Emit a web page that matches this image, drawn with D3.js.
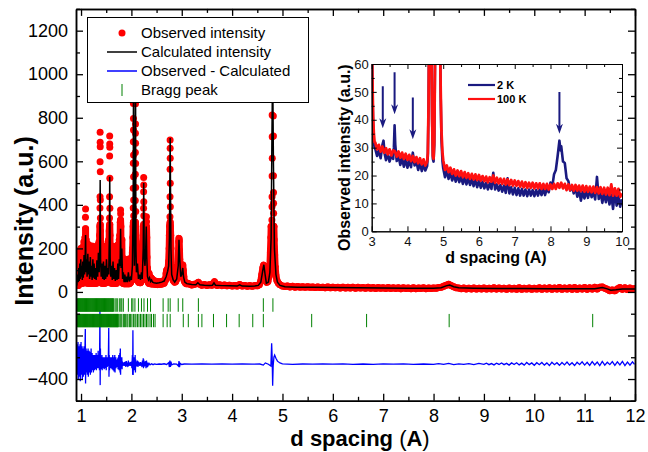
<!DOCTYPE html>
<html>
<head>
<meta charset="utf-8">
<script src="https://cdn.jsdelivr.net/npm/d3@7"></script>
<style>
body { margin: 0; background: #fff; }
text { font-family: "Liberation Sans", Arial, sans-serif; }
</style>
</head>
<body>
<div id="chart"></div>
<script>
// ---- main pattern: observed profile [d, intensity] ----
const obsProfile = [
[0.915,40],[0.92,120],[0.925,30],[0.93,140],[0.935,35],[0.94,110],[0.945,30],[0.95,150],[0.955,40],[0.96,170],[0.965,35],[0.97,130],[0.975,40],[0.98,190],[0.985,45],[0.99,160],[0.995,40],[1.0,200],[1.005,50],[1.01,175],[1.015,40],[1.02,150],[1.025,45],[1.03,185],[1.035,40],[1.04,160],[1.045,50],[1.05,210],[1.055,45],[1.06,230],[1.065,60],[1.07,200],[1.075,55],[1.08,250],[1.085,120],[1.09,290],[1.095,100],[1.10,240],[1.105,55],[1.11,210],[1.115,45],[1.12,195],[1.125,40],[1.13,220],[1.135,50],[1.14,200],[1.145,45],[1.15,190],[1.155,40],[1.16,215],[1.165,45],[1.17,180],[1.175,40],[1.18,205],[1.185,50],[1.19,190],[1.195,40],[1.20,175],[1.205,45],[1.21,200],[1.215,40],[1.22,185],[1.225,45],[1.23,210],[1.235,50],[1.24,180],[1.245,40],[1.25,195],[1.255,45],[1.26,170],[1.265,40],[1.27,190],[1.275,45],[1.28,175],[1.285,40],[1.29,165],[1.295,45],[1.30,180],[1.305,40],[1.31,195],[1.315,50],[1.32,170],[1.325,45],[1.33,200],[1.335,55],[1.34,215],[1.345,60],[1.35,220],[1.355,70],[1.36,230],[1.365,80],[1.37,260],[1.375,300],[1.38,310],[1.385,280],[1.39,150],[1.395,60],[1.40,200],[1.405,45],[1.41,190],[1.415,40],[1.42,205],[1.425,45],[1.43,180],[1.435,40],[1.44,195],[1.445,45],[1.45,210],[1.455,40],[1.46,175],[1.465,45],[1.47,190],[1.475,40],[1.48,200],[1.485,50],[1.49,185],[1.495,45],[1.50,210],[1.505,55],[1.51,195],[1.515,50],[1.52,180],[1.525,45],[1.53,200],[1.535,60],[1.54,230],[1.545,80],[1.55,240],[1.555,120],[1.56,280],[1.565,300],[1.57,310],[1.575,260],[1.58,120],[1.585,55],[1.59,200],[1.595,45],[1.60,185],[1.605,40],[1.61,200],[1.615,45],[1.62,175],[1.625,40],[1.63,190],[1.635,45],[1.64,210],[1.645,40],[1.65,180],[1.655,45],[1.66,195],[1.665,40],[1.67,170],[1.675,45],[1.68,185],[1.685,40],[1.69,175],[1.695,45],[1.70,190],[1.705,40],[1.71,165],[1.715,45],[1.72,200],[1.725,50],[1.73,215],[1.735,55],[1.74,190],[1.745,60],[1.75,220],[1.755,70],[1.76,240],[1.765,90],[1.77,260],[1.775,200],[1.78,320],[1.785,330],[1.79,300],[1.795,150],[1.80,230],[1.805,200],[1.81,240],[1.815,100],[1.82,160],[1.825,45],[1.83,140],[1.835,40],[1.84,150],[1.845,40],[1.85,125],[1.855,38],[1.86,140],[1.865,40],[1.87,130],[1.875,38],[1.88,145],[1.885,40],[1.89,120],[1.895,38],[1.90,135],[1.905,40],[1.91,115],[1.915,38],[1.92,130],[1.925,40],[1.93,140],[1.935,38],[1.94,150],[1.945,40],[1.95,125],[1.955,38],[1.96,110],[1.965,40],[1.97,120],[1.975,42],[1.98,115],[1.985,45],[1.99,130],[1.995,50],[2.00,140],[2.005,55],[2.01,160],[2.015,80],[2.02,180],[2.025,200],[2.03,250],[2.035,300],[2.04,320],[2.045,300],[2.05,220],[2.055,150],[2.06,180],[2.065,230],[2.07,280],[2.075,300],[2.08,320],[2.085,300],[2.09,220],[2.095,130],[2.10,160],[2.105,60],[2.11,150],[2.115,55],[2.12,175],[2.125,60],[2.13,160],[2.135,50],[2.14,140],[2.145,45],[2.15,130],[2.155,45],[2.16,145],[2.165,45],[2.17,120],[2.175,42],[2.18,130],[2.185,45],[2.19,140],[2.195,50],[2.20,160],[2.205,55],[2.21,150],[2.215,60],[2.22,180],[2.225,120],[2.23,230],[2.235,260],[2.24,300],[2.245,310],[2.25,280],[2.255,220],[2.26,160],[2.265,140],[2.27,180],[2.275,150],[2.28,220],[2.285,260],[2.29,280],[2.295,290],[2.30,300],[2.305,250],[2.31,160],[2.315,80],[2.32,110],[2.325,50],[2.33,90],[2.335,45],[2.34,80],[2.345,40],[2.35,85],[2.36,40],[2.37,70],[2.38,38],[2.39,65],[2.40,38],[2.41,60],[2.42,36],[2.43,55],[2.45,36],[2.47,50],[2.49,34],[2.51,48],[2.53,34],[2.55,46],[2.57,35],[2.59,48],[2.61,36],[2.63,50],[2.65,40],[2.67,60],[2.68,55],[2.69,85],[2.70,100],[2.71,95],[2.72,105],[2.73,110],[2.74,140],[2.75,200],[2.755,260],[2.76,300],[2.765,310],[2.77,320],[2.775,300],[2.78,260],[2.785,200],[2.79,120],[2.80,80],[2.81,70],[2.82,60],[2.83,55],[2.84,50],[2.86,45],[2.88,48],[2.90,60],[2.91,75],[2.92,95],[2.93,130],[2.935,180],[2.94,230],[2.945,246],[2.95,235],[2.955,190],[2.96,150],[2.97,100],[2.98,70],[2.99,75],[3.00,90],[3.01,115],[3.02,124],[3.03,100],[3.04,70],[3.05,50],[3.07,42],[3.09,38],[3.12,40],
[3.15,36],[3.20,32],[3.25,35],[3.30,39],[3.33,44],[3.36,35],[3.40,31],[3.45,34],[3.50,30],[3.55,33],[3.60,31],[3.63,40],[3.65,47],[3.67,37],[3.70,30],[3.75,33],[3.80,29],[3.85,32],[3.90,28],[3.95,31],[4.00,27],[4.05,30],[4.10,27],[4.15,34],[4.20,27],[4.25,30],[4.30,26],[4.35,29],[4.40,26],[4.45,29],[4.50,28],[4.54,33],[4.57,50],[4.59,80],[4.61,110],[4.625,123],[4.64,115],[4.655,85],[4.67,55],[4.69,44],[4.71,48],[4.73,70],[4.75,120],[4.76,180],[4.77,250],[4.775,300],[4.83,300],[4.835,240],[4.845,170],[4.855,115],[4.87,75],[4.89,52],[4.92,40],[4.95,33],[5.00,27],[5.05,25],[5.10,27],[5.15,23],[5.20,26],[5.25,22],[5.30,25],[5.35,22],[5.40,24],[5.45,21],[5.50,24],[5.55,21],[5.60,23],[5.65,20],[5.70,23],[5.75,20],[5.80,22],[5.85,19],[5.90,23],[5.95,19],[6.00,22],[6.05,19],[6.10,21],[6.15,18],[6.20,22],[6.25,18],[6.30,21],[6.35,18],[6.40,22],[6.45,17],[6.50,21],[6.55,18],[6.60,20],[6.65,17],[6.70,21],[6.75,17],[6.80,20],[6.85,16],[6.90,20],[6.95,17],[7.00,19],[7.05,16],[7.10,20],[7.15,16],[7.20,19],[7.25,16],[7.30,19],[7.35,15],[7.40,19],[7.45,16],[7.50,18],[7.55,15],[7.60,19],[7.65,15],[7.70,18],[7.75,16],[7.80,19],[7.85,15],[7.90,18],[7.95,16],[8.00,18],[8.05,17],[8.10,20],[8.15,21],[8.20,26],[8.25,31],[8.30,35],[8.35,29],[8.40,24],[8.45,19],[8.50,18],[8.55,15],[8.60,18],[8.65,14],[8.70,17],[8.75,14],[8.80,18],[8.85,13],[8.90,17],[8.95,14],[9.00,18],[9.05,13],[9.10,17],[9.15,14],[9.20,19],[9.25,13],[9.30,18],[9.35,14],[9.40,17],[9.45,12],[9.50,18],[9.55,13],[9.60,17],[9.65,12],[9.70,19],[9.75,12],[9.80,17],[9.85,13],[9.90,18],[9.95,12],[10.00,17],[10.05,13],[10.10,19],[10.15,12],[10.20,18],[10.25,13],[10.30,19],[10.35,12],[10.40,18],[10.45,13],[10.50,20],[10.55,12],[10.60,18],[10.65,13],[10.70,19],[10.75,12],[10.80,20],[10.85,12],[10.90,18],[10.95,13],[11.00,20],[11.05,12],[11.10,19],[11.15,13],[11.20,21],[11.25,14],[11.30,22],[11.35,23],[11.40,17],[11.45,12],[11.50,6],[11.55,9],[11.60,5],[11.65,14],[11.70,20],[11.75,12],[11.80,19],[11.85,11],[11.90,18],[11.95,12],[11.99,15]
];

// observed points on the flanks of the strong reflections
const obsPeaks = [
[1.088,343],[1.09,381],
[1.379,733],[1.380,687],[1.381,667],[1.378,598],[1.382,552],[1.377,437],[1.383,422],[1.376,385],[1.384,340],
[1.569,716],[1.570,679],[1.571,664],[1.568,624],[1.572,522],[1.567,437],[1.573,384],[1.566,340],
[1.785,376],[1.787,359],
[2.040,866],[2.041,797],[2.042,744],[2.039,690],[2.043,629],[2.038,591],[2.044,529],[2.037,476],[2.045,422],[2.036,385],[2.046,350],
[2.081,864],[2.082,771],[2.080,729],[2.083,683],[2.079,640],[2.084,590],[2.078,540],[2.085,480],[2.077,420],[2.086,370],
[2.244,526],[2.245,491],[2.243,460],[2.246,414],[2.242,384],[2.247,350],
[2.299,345],[2.301,322],
[2.769,698],[2.770,660],[2.771,614],[2.768,563],[2.772,499],[2.767,437],[2.773,391],[2.766,345],
[4.795,813],[4.818,808],[4.796,713],[4.820,716],[4.797,614],[4.821,534],[4.794,532],[4.822,457],[4.793,437],[4.823,407],[4.792,391],[4.824,361],[4.790,330],[4.826,300],[4.788,254],[4.828,208],[4.786,177]
];

// calculated profile
const calcProfile = [
[0.915,30],[0.92,60],[0.935,80],[0.945,45],[0.955,110],[0.965,50],[0.975,130],[0.985,60],[0.995,150],[1.005,70],[1.015,120],[1.025,55],[1.035,140],[1.045,65],[1.06,170],[1.07,80],[1.08,130],[1.09,262],[1.10,90],[1.11,150],[1.12,70],[1.135,175],[1.145,80],[1.16,140],[1.17,60],[1.185,160],[1.195,70],[1.21,120],[1.22,55],[1.235,150],[1.245,65],[1.26,130],[1.27,60],[1.285,110],[1.30,55],[1.315,145],[1.33,70],[1.345,180],[1.36,90],[1.372,200],[1.38,514],[1.388,150],[1.40,70],[1.415,130],[1.43,60],[1.445,140],[1.46,55],[1.475,120],[1.49,60],[1.505,150],[1.52,70],[1.535,110],[1.55,80],[1.562,250],[1.57,529],[1.578,160],[1.59,70],[1.605,120],[1.62,55],[1.635,140],[1.65,60],[1.665,110],[1.68,50],[1.70,100],[1.715,55],[1.73,130],[1.745,60],[1.76,150],[1.775,120],[1.785,290],[1.795,110],[1.81,200],[1.825,60],[1.84,90],[1.855,45],[1.87,80],[1.885,45],[1.90,70],[1.92,45],[1.94,90],[1.96,48],[1.98,65],[2.00,55],[2.02,120],[2.035,400],[2.043,1050],[2.05,300],[2.06,120],[2.07,250],[2.082,1000],[2.09,200],[2.10,90],[2.12,130],[2.14,60],[2.16,80],[2.18,55],[2.20,90],[2.215,60],[2.235,200],[2.245,500],[2.255,160],[2.27,120],[2.285,200],[2.295,300],[2.305,160],[2.32,70],[2.34,55],[2.36,65],[2.38,48],[2.40,55],[2.42,45],[2.45,42],[2.50,40],[2.55,42],[2.60,45],[2.65,50],[2.69,70],[2.72,95],[2.74,120],[2.755,250],[2.77,707],[2.785,200],[2.80,80],[2.83,55],[2.86,45],[2.90,60],[2.93,120],[2.945,240],[2.96,150],[2.98,70],[3.00,80],[3.02,110],[3.035,70],[3.06,45],[3.10,38],[3.20,34],[3.28,33],[3.32,42],[3.36,33],[3.45,31],[3.55,30],[3.61,31],[3.64,42],[3.67,31],[3.80,29],[3.95,28],[4.10,27],[4.15,33],[4.20,27],[4.35,26],[4.45,27],[4.52,30],[4.57,45],[4.61,100],[4.63,125],[4.655,80],[4.68,40],[4.72,45],[4.75,90],[4.775,250],[4.79,700],[4.805,1050],[4.82,600],[4.84,200],[4.87,80],[4.90,45],[4.95,30],[5.05,24],[5.3,22],[5.6,21],[6.0,20],[6.5,19],[7.0,18],[7.5,17.5],[8.0,17],[8.15,19],[8.25,28],[8.32,32],[8.4,24],[8.5,19],[8.8,17],[9.3,16],[9.8,15.5],[10.3,15],[10.8,14.5],[11.2,15],[11.35,20],[11.45,14],[11.52,8],[11.62,10],[11.75,14],[11.9,14],[12.0,13]
];

// observed - calculated (shifted)
const diffProfile = [
[0.915,-300],[0.92,-240],[0.925,-380],[0.93,-260],[0.935,-350],[0.94,-230],[0.945,-400],[0.95,-280],[0.955,-360],[0.96,-250],[0.965,-390],[0.97,-290],[0.975,-340],[0.98,-240],[0.985,-410],[0.99,-300],[0.995,-350],[1.0,-230],[1.005,-380],[1.01,-270],[1.015,-360],[1.02,-250],[1.025,-400],[1.03,-290],[1.035,-340],[1.04,-260],[1.045,-390],[1.05,-300],[1.055,-350],[1.06,-250],[1.065,-380],[1.07,-280],[1.075,-330],[1.08,-230],[1.085,-170],[1.09,-420],[1.095,-300],[1.10,-260],[1.105,-370],[1.11,-280],[1.115,-350],[1.12,-270],[1.125,-380],[1.13,-290],[1.135,-340],[1.14,-260],[1.145,-390],[1.15,-300],[1.155,-350],[1.16,-270],[1.165,-370],[1.17,-290],[1.175,-345],[1.18,-275],[1.185,-380],[1.19,-300],[1.195,-345],[1.20,-260],[1.205,-370],[1.21,-300],[1.215,-350],[1.22,-280],[1.225,-360],[1.23,-300],[1.235,-340],[1.24,-290],[1.245,-370],[1.25,-310],[1.255,-345],[1.26,-290],[1.265,-360],[1.27,-300],[1.275,-340],[1.28,-290],[1.285,-355],[1.29,-310],[1.295,-345],[1.30,-280],[1.305,-360],[1.31,-300],[1.315,-340],[1.32,-290],[1.325,-350],[1.33,-300],[1.335,-330],[1.34,-270],[1.345,-350],[1.35,-300],[1.355,-340],[1.36,-290],[1.365,-360],[1.37,-250],[1.375,-83],[1.38,-428],[1.385,-260],[1.39,-340],[1.395,-300],[1.40,-355],[1.405,-310],[1.41,-345],[1.415,-290],[1.42,-360],[1.425,-310],[1.43,-340],[1.435,-300],[1.44,-350],[1.445,-310],[1.45,-340],[1.455,-300],[1.46,-355],[1.465,-315],[1.47,-345],[1.475,-300],[1.48,-350],[1.485,-320],[1.49,-340],[1.495,-290],[1.50,-360],[1.505,-320],[1.51,-340],[1.515,-300],[1.52,-345],[1.525,-310],[1.53,-340],[1.535,-300],[1.54,-330],[1.545,-260],[1.55,-166],[1.555,-390],[1.56,-290],[1.565,-360],[1.57,-300],[1.575,-350],[1.58,-310],[1.585,-345],[1.59,-300],[1.595,-350],[1.60,-315],[1.605,-340],[1.61,-300],[1.615,-355],[1.62,-320],[1.625,-340],[1.63,-290],[1.635,-360],[1.64,-310],[1.645,-340],[1.65,-300],[1.655,-365],[1.66,-310],[1.665,-345],[1.67,-290],[1.675,-370],[1.68,-320],[1.685,-340],[1.69,-300],[1.695,-350],[1.70,-320],[1.705,-340],[1.71,-310],[1.715,-345],[1.72,-320],[1.725,-340],[1.73,-305],[1.735,-355],[1.74,-300],[1.745,-345],[1.75,-290],[1.755,-360],[1.76,-300],[1.765,-345],[1.77,-280],[1.775,-370],[1.78,-260],[1.785,-380],[1.79,-300],[1.795,-350],[1.80,-310],[1.805,-345],[1.81,-300],[1.815,-355],[1.82,-320],[1.83,-340],[1.84,-325],[1.85,-338],[1.86,-322],[1.87,-340],[1.88,-320],[1.89,-345],[1.90,-318],[1.91,-340],[1.92,-325],[1.93,-345],[1.94,-315],[1.95,-340],[1.96,-325],[1.97,-338],[1.98,-322],[1.99,-340],[2.00,-320],[2.01,-350],[2.02,-290],[2.025,-380],[2.03,-176],[2.035,-381],[2.04,-310],[2.045,-360],[2.05,-300],[2.06,-345],[2.065,-310],[2.07,-360],[2.075,-290],[2.08,-370],[2.085,-310],[2.09,-345],[2.10,-320],[2.11,-340],[2.12,-315],[2.13,-345],[2.14,-320],[2.15,-338],[2.16,-325],[2.17,-340],[2.18,-322],[2.19,-338],[2.20,-325],[2.21,-345],[2.22,-315],[2.23,-340],[2.235,-305],[2.24,-350],[2.245,-310],[2.25,-345],[2.26,-320],[2.27,-340],[2.28,-318],[2.29,-350],[2.30,-315],[2.31,-345],[2.32,-325],[2.33,-338],[2.35,-328],[2.37,-335],[2.40,-330],[2.43,-334],[2.46,-331],[2.50,-333],[2.55,-331],[2.60,-332],[2.65,-330],[2.70,-333],[2.74,-325],[2.755,-345],[2.765,-315],[2.775,-345],[2.785,-320],[2.80,-335],[2.84,-331],[2.90,-332],[2.935,-340],[2.945,-318],[2.955,-345],[2.97,-328],[3.0,-333],[3.05,-331],[3.2,-332],[3.4,-331],[3.6,-332],[3.8,-331],[4.0,-332],[4.2,-331],[4.4,-332],[4.55,-331],[4.62,-336],[4.66,-326],[4.72,-332],[4.77,-340],[4.785,-236],[4.795,-300],[4.805,-431],[4.815,-340],[4.83,-300],[4.845,-290],[4.87,-305],[4.9,-318],[4.95,-326],[5.0,-330],[5.2,-333],[5.4,-331],[5.6,-332],[5.8,-330],[6.0,-332],[6.2,-330],[6.4,-333],[6.6,-331],[6.8,-333],[7.0,-330],[7.2,-332],[7.4,-330],[7.6,-333],[7.8,-331],[8.0,-333],[8.1,-329],[8.2,-333],[8.3,-328],[8.4,-334],[8.5,-330],[8.6,-333],[8.7,-329],[8.8,-334],[8.9,-328],[9.0,-333],[9.05,-327],[9.1,-334],[9.15,-329],[9.2,-335],[9.25,-327],[9.3,-333],[9.35,-326],[9.4,-334],[9.45,-328],[9.5,-336],[9.55,-326],[9.6,-333],[9.65,-325],[9.7,-335],[9.75,-327],[9.8,-336],[9.85,-324],[9.9,-334],[9.95,-326],[10.0,-337],[10.05,-325],[10.1,-334],[10.15,-324],[10.2,-336],[10.25,-326],[10.3,-338],[10.35,-323],[10.4,-334],[10.45,-325],[10.5,-337],[10.55,-324],[10.6,-335],[10.65,-322],[10.7,-336],[10.75,-325],[10.8,-338],[10.85,-323],[10.9,-334],[10.95,-321],[11.0,-336],[11.05,-323],[11.1,-337],[11.15,-320],[11.2,-335],[11.25,-322],[11.3,-338],[11.35,-319],[11.4,-336],[11.45,-323],[11.5,-334],[11.55,-320],[11.6,-337],[11.65,-321],[11.7,-335],[11.75,-319],[11.8,-338],[11.85,-322],[11.9,-336],[11.95,-321],[11.99,-333]
];

// Bragg reflection positions (d, A), two phases
const braggPhase1 = [0.930,0.941,0.950,0.962,0.971,0.983,0.992,1.004,1.013,1.025,1.034,1.046,1.055,1.067,1.076,1.088,1.097,1.109,1.118,1.130,1.139,1.151,1.160,1.172,1.181,1.193,1.202,1.214,1.223,1.235,1.244,1.256,1.265,1.277,1.286,1.298,1.307,1.319,1.328,1.340,1.349,1.361,1.370,1.382,1.391,1.403,1.412,1.424,1.433,1.445,1.454,1.466,1.475,1.487,1.496,1.508,1.517,1.529,1.538,1.550,1.559,1.571,1.580,1.592,1.601,1.613,1.622,1.634,1.642,1.674,1.697,1.720,1.760,1.790,1.810,1.840,1.940,2.006,2.030,2.070,2.140,2.200,2.250,2.320,2.380,2.630,2.730,2.770,2.930,3.020,3.330,4.620,4.810];
const braggPhase2 = [0.930,0.939,0.948,0.958,0.967,0.976,0.986,0.995,1.004,1.014,1.023,1.032,1.042,1.051,1.060,1.070,1.079,1.088,1.098,1.107,1.116,1.126,1.135,1.144,1.154,1.163,1.172,1.182,1.191,1.200,1.210,1.219,1.228,1.238,1.247,1.256,1.266,1.275,1.284,1.294,1.303,1.312,1.322,1.331,1.340,1.350,1.359,1.368,1.378,1.387,1.396,1.406,1.415,1.424,1.434,1.443,1.452,1.462,1.471,1.480,1.490,1.499,1.508,1.518,1.527,1.536,1.546,1.555,1.564,1.574,1.583,1.592,1.602,1.611,1.620,1.630,1.639,1.648,1.658,1.667,1.676,1.686,1.695,1.704,1.714,1.723,1.732,1.740,1.770,1.790,1.810,1.840,1.860,1.880,1.910,1.930,1.960,1.980,2.010,2.040,2.070,2.090,2.120,2.150,2.180,2.210,2.240,2.270,2.300,2.330,2.370,2.400,2.440,2.470,2.630,2.710,2.770,3.030,3.130,3.330,3.400,3.630,3.890,4.140,4.410,4.620,5.580,6.670,8.310,11.160];

// ---- inset: observed intensity at 2 K and 100 K ----
const inset2K = [[3.00,75],[3.02,52],[3.04,38],[3.06,32],[3.08,30],[3.10,29.5],[3.15,27.0],[3.20,29.0],[3.25,26.2],[3.30,31.0],[3.33,32.5],[3.36,28.0],[3.40,25.5],[3.45,27.8],[3.50,25.0],[3.55,27.2],[3.60,26.0],[3.62,30],[3.64,38.0],[3.66,31],[3.70,25.2],[3.75,27.0],[3.80,23.8],[3.85,26.2],[3.90,23.2],[3.95,25.8],[4.00,22.8],[4.05,25.4],[4.10,23.0],[4.15,28.2],[4.20,23.6],[4.25,25.0],[4.30,22.0],[4.35,24.6],[4.40,21.6],[4.45,24.0],[4.50,21.8],[4.55,23.4],[4.57,27],[4.59,45],[4.61,80],[4.63,95],[4.66,80],[4.69,40],[4.71,26],[4.73,25],[4.75,31],[4.77,60],[4.80,95],[4.85,100],[4.90,80],[4.93,48],[4.95,33],[4.98,25],[5.00,22.6],[5.05,19.4],[5.10,21.8],[5.15,18.8],[5.20,21.0],[5.25,18.2],[5.30,20.4],[5.35,17.8],[5.40,20.2],[5.45,17.6],[5.50,19.6],[5.55,17.0],[5.60,19.4],[5.65,16.8],[5.70,19.0],[5.75,16.6],[5.80,18.8],[5.85,16.2],[5.90,18.4],[5.95,15.8],[6.00,18.2],[6.05,15.6],[6.10,17.8],[6.15,15.4],[6.20,17.4],[6.25,15.0],[6.30,17.2],[6.35,15.2],[6.40,21.0],[6.45,15.0],[6.50,16.8],[6.55,14.6],[6.60,16.6],[6.65,14.2],[6.70,16.4],[6.75,13.8],[6.80,19.0],[6.85,13.6],[6.90,15.8],[6.95,13.2],[7.00,15.6],[7.05,13.0],[7.10,15.4],[7.15,12.8],[7.20,15.2],[7.25,12.8],[7.30,15.0],[7.35,12.6],[7.40,15.0],[7.45,12.8],[7.50,14.8],[7.55,12.6],[7.60,14.8],[7.65,12.8],[7.70,15.0],[7.75,13.0],[7.80,15.2],[7.85,13.0],[7.90,15.6],[7.95,14.0],[8.00,17.5],[8.05,16.0],[8.10,20.5],[8.15,22.0],[8.20,27.0],[8.25,32.5],[8.28,29.0],[8.30,30.5],[8.35,25.0],[8.40,24.5],[8.45,19.0],[8.50,18.0],[8.55,14.6],[8.60,16.2],[8.65,13.6],[8.70,15.6],[8.75,12.4],[8.80,14.8],[8.85,11.0],[8.90,14.2],[8.95,11.8],[9.00,14.6],[9.05,12.0],[9.10,15.0],[9.15,12.2],[9.20,14.4],[9.25,11.4],[9.30,19.5],[9.35,11.6],[9.40,14.0],[9.45,10.2],[9.50,13.6],[9.55,10.4],[9.60,14.0],[9.65,9.6],[9.70,13.2],[9.75,8.0],[9.80,14.5],[9.85,9.2],[9.90,12.8],[9.95,8.8],[10.00,11.5]];
const inset100K = [[3.00,75],[3.02,55],[3.04,41],[3.06,35],[3.08,32],[3.10,31.8],[3.15,29.4],[3.20,31.0],[3.25,28.6],[3.30,30.4],[3.35,28.2],[3.40,29.8],[3.45,27.6],[3.50,29.4],[3.55,27.2],[3.60,29.0],[3.65,28.6],[3.70,26.8],[3.75,28.6],[3.80,26.4],[3.85,28.2],[3.90,26.0],[3.95,27.8],[4.00,25.6],[4.05,27.4],[4.10,25.2],[4.15,27.0],[4.20,24.8],[4.25,26.6],[4.30,24.4],[4.35,26.2],[4.40,24.0],[4.45,25.8],[4.50,23.6],[4.55,25.0],[4.57,28],[4.59,45],[4.61,80],[4.63,95],[4.66,80],[4.69,40],[4.71,27],[4.73,26],[4.75,32],[4.77,60],[4.80,95],[4.85,100],[4.90,80],[4.93,50],[4.95,36],[4.98,28],[5.00,25.5],[5.05,22.0],[5.10,23.6],[5.15,21.2],[5.20,22.8],[5.25,20.6],[5.30,22.2],[5.35,20.0],[5.40,21.8],[5.45,19.8],[5.50,21.6],[5.55,19.4],[5.60,21.2],[5.65,19.2],[5.70,20.8],[5.75,18.8],[5.80,20.6],[5.85,18.6],[5.90,20.4],[5.95,18.4],[6.00,20.2],[6.05,18.2],[6.10,19.8],[6.15,18.0],[6.20,19.6],[6.25,17.6],[6.30,19.4],[6.35,17.8],[6.40,20.0],[6.45,17.4],[6.50,19.2],[6.55,17.2],[6.60,18.9],[6.65,17.0],[6.70,18.8],[6.75,16.8],[6.80,18.6],[6.85,16.6],[6.90,18.4],[6.95,16.4],[7.00,18.2],[7.05,16.3],[7.10,18.0],[7.15,16.0],[7.20,17.8],[7.25,15.8],[7.30,17.6],[7.35,15.6],[7.40,17.4],[7.45,15.6],[7.50,17.4],[7.55,15.4],[7.60,17.2],[7.65,15.4],[7.70,17.2],[7.75,15.2],[7.80,17.0],[7.85,15.2],[7.90,17.0],[7.95,15.0],[8.00,16.8],[8.05,15.2],[8.10,17.0],[8.15,15.2],[8.20,17.2],[8.25,15.6],[8.30,17.4],[8.35,15.4],[8.40,17.0],[8.45,14.8],[8.50,16.8],[8.55,14.8],[8.60,16.6],[8.65,14.6],[8.70,16.6],[8.75,14.6],[8.80,16.4],[8.85,14.4],[8.90,16.4],[8.95,14.2],[9.00,16.2],[9.05,14.2],[9.10,16.0],[9.15,14.0],[9.20,16.0],[9.25,13.8],[9.30,15.8],[9.35,13.6],[9.40,15.8],[9.45,13.4],[9.50,15.6],[9.55,13.2],[9.60,15.6],[9.65,13.0],[9.70,16.8],[9.75,12.8],[9.80,15.4],[9.85,12.8],[9.90,15.2],[9.95,12.4],[10.00,13.6]];

// magnetic reflections marked with arrows: d, arrow start, arrow tip
const arrowD = [3.31, 3.64, 4.15, 8.25];
const arrowTop = [52, 57, 48, 50];
const arrowTip = [37, 42, 33, 35];

const legendLabels = ["Observed intensity", "Calculated intensity", "Observed - Calculated", "Bragg peak"];
const insetLabels = ["2 K", "100 K"];

// ---------------------------------------------------------------
const width = 648, height = 452;
const plot = {left: 76, right: 635, top: 8.9, bottom: 400.8};

const svg = d3.select("#chart")
    .append("svg")
    .attr("width", width)
    .attr("height", height)
    .attr("viewBox", [0, 0, width, height])
    .style("background", "#fff");

const x = d3.scaleLinear().domain([0.9, 12]).range([plot.left, plot.right]);
const y = d3.scaleLinear().domain([-500, 1300]).range([plot.bottom, plot.top]);

svg.append("clipPath").attr("id", "mainClip")
    .append("rect")
    .attr("x", plot.left).attr("y", plot.top)
    .attr("width", plot.right - plot.left).attr("height", plot.bottom - plot.top);

const main = svg.append("g").attr("clip-path", "url(#mainClip)");
const line = d3.line().x(d => x(d[0])).y(d => y(d[1]));

// observed: dense band + dots
main.append("path").datum(obsProfile)
    .attr("d", line)
    .attr("fill", "none")
    .attr("stroke", "#ff0000")
    .attr("stroke-width", 7)
    .attr("stroke-linejoin", "round")
    .attr("stroke-linecap", "round");

main.selectAll(".obs")
    .data(obsProfile.concat(obsPeaks))
    .enter()
    .append("circle")
    .attr("class", "obs")
    .attr("cx", d => x(d[0]))
    .attr("cy", d => y(d[1]))
    .attr("r", 3.5)
    .attr("fill", "#ff0000");

// calculated
main.append("path").datum(calcProfile)
    .attr("d", line)
    .attr("fill", "none")
    .attr("stroke", "#000")
    .attr("stroke-width", 1.5);

// difference
main.append("path").datum(diffProfile)
    .attr("d", line)
    .attr("fill", "none")
    .attr("stroke", "#0000ff")
    .attr("stroke-width", 1.3);

// Bragg ticks, two rows
function braggRow(list, lo, hi) {
    main.append("g").selectAll("line")
        .data(list)
        .enter()
        .append("line")
        .attr("x1", d => x(d)).attr("x2", d => x(d))
        .attr("y1", y(hi)).attr("y2", y(lo))
        .attr("stroke", "#008000")
        .attr("stroke-width", 1);
}
braggRow(braggPhase1, -91, -29);
braggRow(braggPhase2, -162, -101);

// axes (inward ticks on all four sides)
const tickFont = 18;
function styleAxis(g) {
    g.select(".domain").attr("stroke-width", 1.5);
    g.selectAll(".tick line").attr("stroke-width", 1.3);
    g.selectAll("text").attr("font-size", tickFont).attr("fill", "#000")
        .attr("font-family", '"Liberation Sans", Arial, sans-serif');
}

const xMajor = d3.range(1, 13, 1);
const xMinor = d3.range(1.5, 12, 1);
const yMajor = d3.range(-400, 1201, 200);
const yMinor = d3.range(-500, 1301, 200);

svg.append("g").attr("transform", `translate(0,${plot.bottom})`)
    .call(d3.axisBottom(x).tickValues(xMinor).tickSize(-4).tickSizeOuter(0).tickFormat(""))
    .call(styleAxis);
svg.append("g").attr("transform", `translate(0,${plot.bottom})`)
    .call(d3.axisBottom(x).tickValues(xMajor).tickSize(-7).tickSizeOuter(0).tickPadding(8).tickFormat(d3.format("d")))
    .call(styleAxis);
svg.append("g").attr("transform", `translate(0,${plot.top})`)
    .call(d3.axisTop(x).tickValues(xMinor).tickSize(-4).tickSizeOuter(0).tickFormat(""))
    .call(styleAxis);
svg.append("g").attr("transform", `translate(0,${plot.top})`)
    .call(d3.axisTop(x).tickValues(xMajor).tickSize(-7).tickSizeOuter(0).tickFormat(""))
    .call(styleAxis);

svg.append("g").attr("transform", `translate(${plot.left},0)`)
    .call(d3.axisLeft(y).tickValues(yMinor).tickSize(-4).tickSizeOuter(0).tickFormat(""))
    .call(styleAxis);
svg.append("g").attr("transform", `translate(${plot.left},0)`)
    .call(d3.axisLeft(y).tickValues(yMajor).tickSize(-7).tickSizeOuter(0).tickPadding(8).tickFormat(d3.format("d")))
    .call(styleAxis);
svg.append("g").attr("transform", `translate(${plot.right},0)`)
    .call(d3.axisRight(y).tickValues(yMinor).tickSize(-4).tickSizeOuter(0).tickFormat(""))
    .call(styleAxis);
svg.append("g").attr("transform", `translate(${plot.right},0)`)
    .call(d3.axisRight(y).tickValues(yMajor).tickSize(-7).tickSizeOuter(0).tickFormat(""))
    .call(styleAxis);

// axis titles
svg.append("text")
    .attr("transform", `translate(33,221) rotate(-90)`)
    .attr("text-anchor", "middle")
    .attr("font-size", 25)
    .attr("font-weight", "bold")
    .text("Intensity (a.u.)");

const xt = svg.append("text")
    .attr("x", 360).attr("y", 446)
    .attr("text-anchor", "middle")
    .attr("font-size", 22)
    .attr("font-weight", "bold");
xt.append("tspan").text("d spacing ");
xt.append("tspan").attr("font-weight", "normal").text("(");
xt.append("tspan").text("A");
xt.append("tspan").attr("font-weight", "normal").text(")");

// legend
const leg = svg.append("g");
leg.append("rect")
    .attr("x", 87.5).attr("y", 17.5).attr("width", 221).attr("height", 85)
    .attr("fill", "#fff").attr("stroke", "#000").attr("stroke-width", 1);
const rowY = [33, 52, 71, 90];
leg.append("circle").attr("cx", 122).attr("cy", rowY[0]).attr("r", 3.5).attr("fill", "#ff0000");
leg.append("line").attr("x1", 107).attr("x2", 137).attr("y1", rowY[1]).attr("y2", rowY[1])
    .attr("stroke", "#000").attr("stroke-width", 1.5);
leg.append("line").attr("x1", 107).attr("x2", 137).attr("y1", rowY[2]).attr("y2", rowY[2])
    .attr("stroke", "#0000ff").attr("stroke-width", 1.5);
leg.append("line").attr("x1", 122).attr("x2", 122).attr("y1", rowY[3] - 6).attr("y2", rowY[3] + 6)
    .attr("stroke", "#008000").attr("stroke-width", 1);
leg.selectAll(".lt")
    .data(legendLabels)
    .enter()
    .append("text")
    .attr("x", 141)
    .attr("y", (d, i) => rowY[i] + 5)
    .attr("font-size", 15)
    .text(d => d);

// ---------------- inset ----------------
const inset = {left: 371.7, right: 622, top: 64, bottom: 231.3};
const xi = d3.scaleLinear().domain([3, 10]).range([inset.left, inset.right]);
const yi = d3.scaleLinear().domain([0, 60]).range([inset.bottom, inset.top]);

svg.append("rect")
    .attr("x", inset.left).attr("y", inset.top)
    .attr("width", inset.right - inset.left).attr("height", inset.bottom - inset.top)
    .attr("fill", "#fff");

svg.append("clipPath").attr("id", "insetClip")
    .append("rect")
    .attr("x", inset.left).attr("y", inset.top)
    .attr("width", inset.right - inset.left).attr("height", inset.bottom - inset.top);

const ig = svg.append("g").attr("clip-path", "url(#insetClip)");
const iline = d3.line().x(d => xi(d[0])).y(d => yi(d[1]));

ig.append("path").datum(inset2K)
    .attr("d", iline).attr("fill", "none")
    .attr("stroke", "#1a1a80").attr("stroke-width", 2.6).attr("stroke-linejoin", "round");
ig.append("path").datum(inset100K)
    .attr("d", iline).attr("fill", "none")
    .attr("stroke", "#ff1010").attr("stroke-width", 2.8).attr("stroke-linejoin", "round");

// arrows
arrowD.forEach((d, i) => {
    const ax = xi(d), y0 = yi(arrowTop[i]), y1 = yi(arrowTip[i]);
    ig.append("line")
        .attr("x1", ax).attr("x2", ax).attr("y1", y0).attr("y2", y1 - 6)
        .attr("stroke", "#1a1a80").attr("stroke-width", 2);
    ig.append("path")
        .attr("d", `M${ax - 3.5},${y1 - 10} L${ax},${y1 - 7} L${ax + 3.5},${y1 - 10} L${ax},${y1} Z`)
        .attr("fill", "#1a1a80");
});

function styleInset(g) {
    g.select(".domain").attr("stroke-width", 1);
    g.selectAll(".tick line").attr("stroke-width", 1);
    g.selectAll("text").attr("font-size", 13).attr("fill", "#111")
        .attr("font-family", '"Liberation Sans", Arial, sans-serif');
}
const xiMajor = d3.range(3, 11, 1), xiMinor = d3.range(3.5, 10, 1);
const yiMajor = d3.range(0, 61, 10), yiMinor = d3.range(5, 60, 10);

svg.append("g").attr("transform", `translate(0,${inset.bottom})`)
    .call(d3.axisBottom(xi).tickValues(xiMinor).tickSize(-3).tickSizeOuter(0).tickFormat("")).call(styleInset);
svg.append("g").attr("transform", `translate(0,${inset.bottom})`)
    .call(d3.axisBottom(xi).tickValues(xiMajor).tickSize(-5).tickSizeOuter(0).tickPadding(5).tickFormat(d3.format("d"))).call(styleInset);
svg.append("g").attr("transform", `translate(0,${inset.top})`)
    .call(d3.axisTop(xi).tickValues(xiMinor).tickSize(-3).tickSizeOuter(0).tickFormat("")).call(styleInset);
svg.append("g").attr("transform", `translate(0,${inset.top})`)
    .call(d3.axisTop(xi).tickValues(xiMajor).tickSize(-5).tickSizeOuter(0).tickFormat("")).call(styleInset);
svg.append("g").attr("transform", `translate(${inset.left},0)`)
    .call(d3.axisLeft(yi).tickValues(yiMinor).tickSize(-3).tickSizeOuter(0).tickFormat("")).call(styleInset);
svg.append("g").attr("transform", `translate(${inset.left},0)`)
    .call(d3.axisLeft(yi).tickValues(yiMajor).tickSize(-5).tickSizeOuter(0).tickPadding(3).tickFormat(d3.format("d"))).call(styleInset);
svg.append("g").attr("transform", `translate(${inset.right},0)`)
    .call(d3.axisRight(yi).tickValues(yiMinor).tickSize(-3).tickSizeOuter(0).tickFormat("")).call(styleInset);
svg.append("g").attr("transform", `translate(${inset.right},0)`)
    .call(d3.axisRight(yi).tickValues(yiMajor).tickSize(-5).tickSizeOuter(0).tickFormat("")).call(styleInset);

svg.append("text")
    .attr("transform", `translate(350,${(inset.top + inset.bottom) / 2 + 10}) rotate(-90)`)
    .attr("text-anchor", "middle")
    .attr("font-size", 16)
    .attr("font-weight", "bold")
    .text("Observed intensity (a.u.)");
svg.append("text")
    .attr("x", 496).attr("y", 263)
    .attr("text-anchor", "middle")
    .attr("font-size", 16)
    .attr("font-weight", "bold")
    .text("d spacing (A)");

// inset legend
const insetColors = ["#1a1a80", "#ff1010"];
const insetRowY = [85, 99];
insetLabels.forEach((lab, i) => {
    svg.append("line")
        .attr("x1", 468).attr("x2", 495).attr("y1", insetRowY[i]).attr("y2", insetRowY[i])
        .attr("stroke", insetColors[i]).attr("stroke-width", 2.2);
    svg.append("text")
        .attr("x", 497).attr("y", insetRowY[i] + 4)
        .attr("font-size", 11).attr("font-weight", "bold")
        .text(lab);
});
</script>
</body>
</html>
